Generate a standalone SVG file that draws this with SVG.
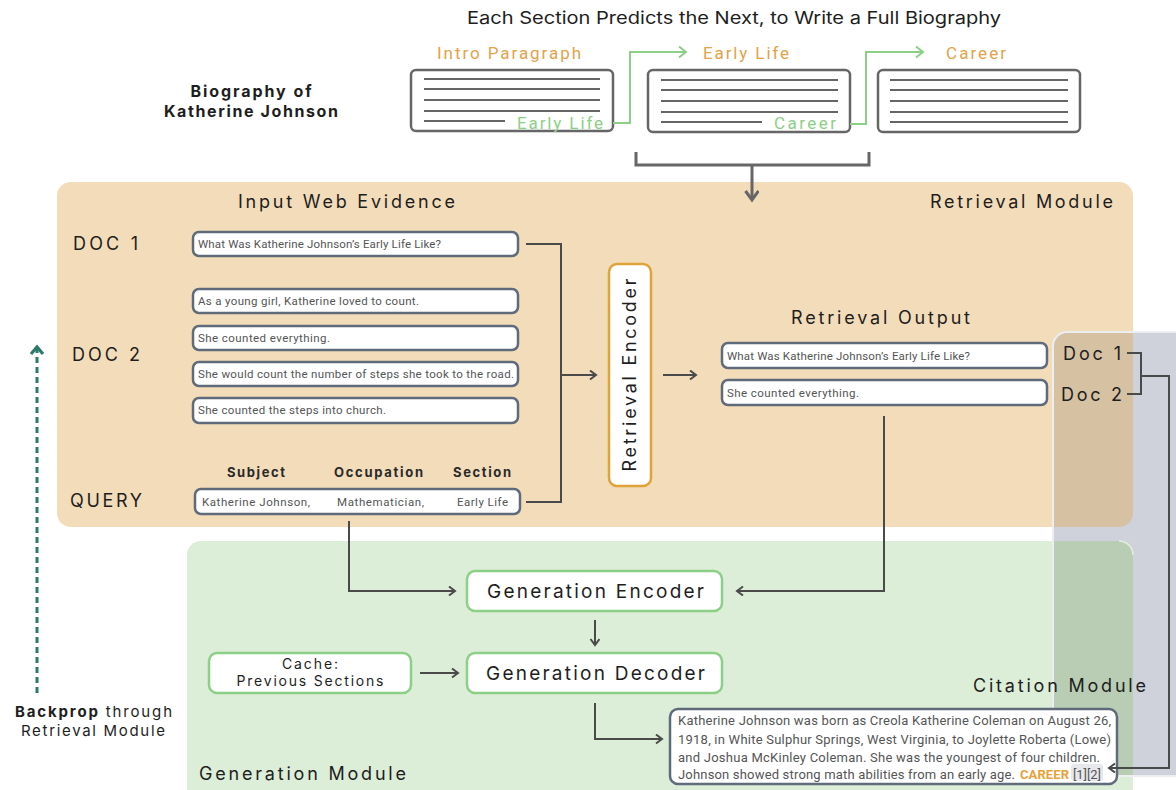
<svg xmlns="http://www.w3.org/2000/svg" width="1176" height="790" viewBox="0 0 1176 790">
<defs>
<marker id="chev" markerUnits="userSpaceOnUse" markerWidth="12" markerHeight="12" refX="8" refY="5" orient="auto" viewBox="0 0 12 12">
<path d="M2,0.5 L8,5 L2,9.5" fill="none" stroke="#4a4a4a" stroke-width="2"/>
</marker>
<marker id="chevG" markerUnits="userSpaceOnUse" markerWidth="14" markerHeight="14" refX="9" refY="6" orient="auto" viewBox="0 0 14 14">
<path d="M2,0.5 L9,6 L2,11.5" fill="none" stroke="#8ccf86" stroke-width="2"/>
</marker>
<marker id="chevBig" markerUnits="userSpaceOnUse" markerWidth="16" markerHeight="16" refX="11" refY="7" orient="auto" viewBox="0 0 16 16">
<path d="M2,0.5 L11,7 L2,13.5" fill="none" stroke="#666" stroke-width="3"/>
</marker>
<marker id="chevT" markerUnits="userSpaceOnUse" markerWidth="16" markerHeight="16" refX="9" refY="7" orient="auto" viewBox="0 0 16 16">
<path d="M2,1 L9,7 L2,13" fill="none" stroke="#2e7a6a" stroke-width="3.2"/>
</marker>
</defs>
<style>
.lbl{font-family:Inter,"Noto Sans","DejaVu Sans",sans-serif;fill:#1e1e1e}
.sm{font-family:Roboto,"Liberation Sans",sans-serif;font-size:11.5px;fill:#555}
.hd{font-family:Inter,"Noto Sans",sans-serif;font-size:13px;font-weight:bold;fill:#2a2a2a}
.tb{fill:#fff;stroke:#5f6b7a;stroke-width:2.5}
.gb{fill:#fff;stroke:#8ccf86;stroke-width:2.5}
.pg{fill:#fff;stroke:#666;stroke-width:2.5}
.pl{stroke:#666;stroke-width:2}
.or{font-family:Roboto,"Liberation Sans",sans-serif;font-size:17px;fill:#e3a24a}
.gr{font-family:Roboto,"Liberation Sans",sans-serif;font-size:17px;fill:#8ccf86}
.cn{fill:none;stroke:#4a4a4a;stroke-width:2}
.ot{font-family:Roboto,"Liberation Sans",sans-serif;font-size:13px;fill:#555}
</style>

<!-- top section -->
<g id="title">
<text x="467" y="24" class="lbl" font-family="Roboto,sans-serif" font-size="17" textLength="534" lengthAdjust="spacingAndGlyphs">Each Section Predicts the Next, to Write a Full Biography</text>
</g>
<g id="bio-label">
<text x="251" y="97" class="lbl" font-size="16" font-weight="bold" text-anchor="middle" textLength="121">Biography of</text>
<text x="251" y="117" class="lbl" font-size="16" font-weight="bold" text-anchor="middle" textLength="174">Katherine Johnson</text>
</g>
<g id="intro">
<text x="437" y="59" class="or" textLength="144">Intro Paragraph</text>
<rect x="411" y="70" width="202" height="61" rx="5" class="pg"/>
<path d="M424 79H600M424 89H600M424 100H600M424 111H600M424 121H505" class="pl"/>
<text x="517" y="129" class="gr" textLength="86">Early Life</text>
</g>
<g id="early">
<text x="703" y="59" class="or" textLength="86">Early Life</text>
<rect x="648" y="70" width="202" height="62" rx="5" class="pg"/>
<path d="M661 80H838M661 90H838M661 101H838M661 112H838M661 122H762" class="pl"/>
<text x="774" y="129" class="gr" textLength="62">Career</text>
</g>
<g id="career">
<text x="946" y="59" class="or" textLength="60">Career</text>
<rect x="878" y="70" width="202" height="62" rx="5" class="pg"/>
<path d="M890 80H1068M890 90H1068M890 101H1068M890 112H1068M890 122H1068" class="pl"/>
</g>

<!-- modules backgrounds -->
<g id="retrieval-module">
<rect x="57" y="182" width="1076" height="345" rx="14" fill="#f3dcb9"/>
<text x="238" y="208" class="lbl" font-size="18" textLength="217">Input Web Evidence</text>
<text x="930" y="208" class="lbl" font-size="18" textLength="183">Retrieval Module</text>
</g>
<g id="generation-module">
<path d="M201 541H1119A14 14 0 0 1 1133 555V790H187V555A14 14 0 0 1 201 541Z" fill="#dcedd8"/>
<text x="199" y="780" class="lbl" font-size="18" textLength="207">Generation Module</text>
</g>
<g id="citation-module">
<rect x="1053" y="332" width="140" height="444" rx="14" fill="#cfd2da" stroke="#eceef2" stroke-width="2"/>
<path d="M1067 333H1133V513A14 14 0 0 1 1119 527H1054V347A14 14 0 0 1 1067 333Z" fill="#d6c1a3"/>
<path d="M1054 541H1119A14 14 0 0 1 1133 555V775H1054Z" fill="#b9cdb5"/>
<path d="M1119 541A14 14 0 0 1 1133 555" fill="none" stroke="#e4ece2" stroke-width="1.5"/>
<text x="973" y="692" class="lbl" font-size="18" textLength="173">Citation Module</text>
<text x="1063" y="360" class="lbl" font-size="18" textLength="58">Doc 1</text>
<text x="1061" y="401" class="lbl" font-size="18" textLength="61">Doc 2</text>
</g>

<!-- doc labels -->
<g id="doc1">
<text x="73" y="250" class="lbl" font-size="18" textLength="65">DOC 1</text>
<rect x="193" y="232" width="325" height="24" rx="6" class="tb"/>
<text x="198" y="248" class="sm" textLength="243">What Was Katherine Johnson’s Early Life Like?</text>
</g>
<g id="doc2">
<text x="72" y="361" class="lbl" font-size="18" textLength="68">DOC 2</text>
<rect x="193" y="289" width="325" height="24" rx="6" class="tb"/>
<text x="198" y="305" class="sm" textLength="221">As a young girl, Katherine loved to count.</text>
<rect x="193" y="326" width="325" height="24" rx="6" class="tb"/>
<text x="198" y="342" class="sm" textLength="132">She counted everything.</text>
<rect x="193" y="362" width="325" height="24" rx="6" class="tb"/>
<text x="198" y="378" class="sm" textLength="316">She would count the number of steps she took to the road.</text>
<rect x="193" y="398" width="325" height="25" rx="6" class="tb"/>
<text x="198" y="414" class="sm" textLength="188">She counted the steps into church.</text>
</g>
<g id="query">
<text x="70" y="507" class="lbl" font-size="18" textLength="72">QUERY</text>
<text x="227" y="477" class="hd" textLength="58">Subject</text>
<text x="334" y="477" class="hd" textLength="89">Occupation</text>
<text x="453" y="477" class="hd" textLength="58">Section</text>
<rect x="195" y="489" width="325" height="25" rx="6" class="tb"/>
<text x="202" y="506" class="sm" textLength="108">Katherine Johnson,</text>
<text x="337" y="506" class="sm" textLength="87">Mathematician,</text>
<text x="457" y="506" class="sm" textLength="51">Early Life</text>
</g>
<g id="retrieval-encoder">
<rect x="609" y="264" width="42" height="222" rx="8" fill="#fff" stroke="#e0a33a" stroke-width="2.5"/>
<text x="630" y="381" class="lbl" font-size="18" text-anchor="middle" transform="rotate(-90 630 375)" textLength="193">Retrieval Encoder</text>
</g>
<g id="retrieval-output">
<text x="791" y="324" class="lbl" font-size="18" textLength="179">Retrieval Output</text>
<rect x="722" y="343" width="325" height="25" rx="6" class="tb"/>
<text x="727" y="360" class="sm" textLength="243">What Was Katherine Johnson’s Early Life Like?</text>
<rect x="722" y="380" width="325" height="25" rx="6" class="tb"/>
<text x="727" y="397" class="sm" textLength="132">She counted everything.</text>
</g>
<g id="generation-encoder">
<rect x="467" y="571" width="255" height="40" rx="8" class="gb"/>
<text x="487" y="598" class="lbl" font-size="19" textLength="217">Generation Encoder</text>
</g>
<g id="generation-decoder">
<rect x="467" y="653" width="255" height="40" rx="8" class="gb"/>
<text x="486" y="680" class="lbl" font-size="19" textLength="219">Generation Decoder</text>
</g>
<g id="cache">
<rect x="209" y="653" width="202" height="40" rx="8" class="gb"/>
<text x="310" y="669" class="lbl" font-size="14" text-anchor="middle" textLength="56">Cache:</text>
<text x="310" y="686" class="lbl" font-size="14" text-anchor="middle" textLength="147">Previous Sections</text>
</g>
<g id="output-text">
<rect x="670" y="709" width="447" height="75" rx="8" fill="#fff" stroke="#5f6b7a" stroke-width="2.5"/>
<rect x="1071" y="764" width="32" height="17" rx="3" fill="#e6e8ec"/>
<text x="678" y="725" class="ot" textLength="433">Katherine Johnson was born as Creola Katherine Coleman on August 26,</text>
<text x="678" y="744" class="ot" textLength="433">1918, in White Sulphur Springs, West Virginia, to Joylette Roberta (Lowe)</text>
<text x="678" y="762" class="ot" textLength="422">and Joshua McKinley Coleman. She was the youngest of four children.</text>
<text x="678" y="779" class="ot" textLength="337">Johnson showed strong math abilities from an early age.</text>
<text x="1020" y="779" class="ot" font-weight="bold" style="fill:#e8a23a" textLength="49">CAREER</text>
<text x="1073" y="779" class="ot" textLength="28">[1][2]</text>
</g>
<g id="backprop">
<path d="M37 693V347" fill="none" stroke="#2e7a6a" stroke-width="3" stroke-dasharray="6 4" marker-end="url(#chevT)"/>
<text x="15" y="717" class="lbl" font-size="15" textLength="157"><tspan font-weight="bold">Backprop</tspan> through</text>
<text x="21" y="736" class="lbl" font-size="15" textLength="144">Retrieval Module</text>
</g>

<!-- connectors -->
<g id="connectors">
<path d="M613 123H630V52H686" fill="none" stroke="#8ccf86" stroke-width="2" marker-end="url(#chevG)"/>
<path d="M850 124H866V52H923" fill="none" stroke="#8ccf86" stroke-width="2" marker-end="url(#chevG)"/>
<path d="M636 152V165H869V152" fill="none" stroke="#666" stroke-width="3"/>
<path d="M752 165V200" fill="none" stroke="#666" stroke-width="3" marker-end="url(#chevBig)"/>
<path d="M526 244H561V502H526" class="cn"/>
<path d="M561 375H596" class="cn" marker-end="url(#chev)"/>
<path d="M663 375H696" class="cn" marker-end="url(#chev)"/>
<path d="M349 521V591H455" class="cn" marker-end="url(#chev)"/>
<path d="M884 416V591H737" class="cn" marker-end="url(#chev)"/>
<path d="M595 620V645" class="cn" marker-end="url(#chev)"/>
<path d="M420 673H458" class="cn" marker-end="url(#chev)"/>
<path d="M595 703V739H662" class="cn" marker-end="url(#chev)"/>
<path d="M1127 353H1141V394H1127M1141 376H1169V768H1109" class="cn" marker-end="url(#chev)"/>
</g>
</svg>
